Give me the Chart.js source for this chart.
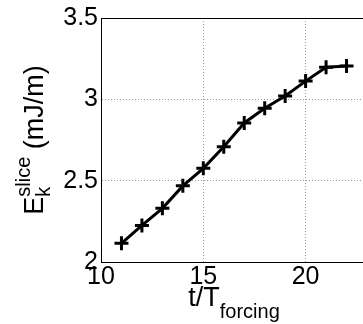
<!DOCTYPE html>
<html>
<head>
<meta charset="utf-8">
<script src="https://cdn.jsdelivr.net/npm/chart.js@4/dist/chart.umd.min.js"></script>
<style>
    html, body { margin: 0; padding: 0; background: #fff; overflow: hidden; }
    #wrap { width: 377px; height: 324px; }
</style>
</head>
<body>
<div id="wrap"><canvas id="myChart" width="377" height="324"></canvas></div>
<script>
// t / T_forcing
var tValues = [11, 12, 13, 14, 15, 16, 17, 18, 19, 20, 21, 22];
// E_k^slice in mJ/m
var ekValues = [2.115, 2.225, 2.33, 2.468, 2.576, 2.708, 2.855, 2.945, 3.02, 3.112, 3.197, 3.205];
var xTicks = [10, 15, 20];
var yTicks = [2, 2.5, 3, 3.5];

window.onload = function () {

    var fontFamily = '"Liberation Sans", Arial, Helvetica, sans-serif';

    var points = [];
    for (var i = 0; i < tValues.length; i++) {
        points.push({ x: tValues[i], y: ekValues[i] });
    }

    // axis titles with sub/superscripts, plus the top/right frame lines
    var labelsPlugin = {
        id: 'matlabLabels',
        afterDraw: function (chart) {
            var c = chart.ctx;
            var area = chart.chartArea;
            c.save();

            c.strokeStyle = '#000';
            c.lineWidth = 1;
            c.beginPath();
            c.moveTo(area.left, area.top + 0.5);
            c.lineTo(area.right, area.top + 0.5);
            c.moveTo(area.right - 0.5, area.top);
            c.lineTo(area.right - 0.5, area.bottom);
            c.stroke();

            c.fillStyle = '#000';
            c.textBaseline = 'alphabetic';
            c.textAlign = 'left';

            // x title: t/T_forcing
            var big = '27px ' + fontFamily;
            var small = '20px ' + fontFamily;
            c.font = big;
            var w1 = c.measureText('t/T').width;
            c.font = small;
            var w2 = c.measureText('forcing').width;
            var cx = (area.left + area.right) / 2;
            var x0 = cx - (w1 + w2) / 2;
            c.font = big;
            c.fillText('t/T', x0, 306);
            c.font = small;
            c.fillText('forcing', x0 + w1, 318);

            // y title: E_k^slice (mJ/m)
            c.font = big;
            var wE = c.measureText('E').width;
            var wRest = c.measureText(' (mJ/m)').width;
            c.font = small;
            var wSup = Math.max(c.measureText('slice').width, c.measureText('k').width);
            var total = wE + wSup + wRest;
            var cy = (area.top + area.bottom) / 2;
            c.translate(43, cy);
            c.rotate(-Math.PI / 2);
            var s = -total / 2;
            c.font = big;
            c.fillText('E', s, 0);
            c.font = small;
            c.fillText('slice', s + wE, -13);
            c.fillText('k', s + wE, 7);
            c.font = big;
            c.fillText(' (mJ/m)', s + wE + wSup, 0);

            c.restore();
        }
    };

    var ctx = document.getElementById('myChart').getContext('2d');

    var myChart = new Chart(ctx, {
        type: 'line',
        data: {
            datasets: [{
                label: 'Ek slice',
                data: points,
                borderColor: '#000',
                backgroundColor: '#000',
                borderWidth: 3,
                tension: 0,
                pointStyle: 'cross',
                pointRadius: 7,
                pointBorderWidth: 3,
                pointBorderColor: '#000'
            }]
        },
        options: {
            responsive: false,
            animation: false,
            devicePixelRatio: 1,
            layout: {
                padding: { top: 16, right: 4, left: 0, bottom: 0 }
            },
            plugins: {
                legend: { display: false },
                tooltip: { enabled: false }
            },
            scales: {
                x: {
                    type: 'linear',
                    min: 10,
                    max: 23,
                    afterBuildTicks: function (scale) {
                        scale.ticks = xTicks.map(function (v) { return { value: v }; });
                    },
                    afterFit: function (scale) {
                        scale.height = 62;
                        scale.paddingLeft = 0;
                        scale.paddingRight = 0;
                    },
                    ticks: {
                        color: '#000',
                        font: { family: fontFamily, size: 25 },
                        padding: 0,
                        maxRotation: 0,
                        callback: function (v) { return String(v); }
                    },
                    grid: {
                        drawTicks: false,
                        color: function (c) {
                            return (c.tick && c.tick.value === 10) ? 'rgba(0,0,0,0)' : '#9a9a9a';
                        },
                        lineWidth: 1
                    },
                    border: { display: true, color: '#000', width: 1, dash: [1, 2] }
                },
                y: {
                    min: 2,
                    max: 3.5,
                    afterBuildTicks: function (scale) {
                        scale.ticks = yTicks.map(function (v) { return { value: v }; });
                    },
                    afterFit: function (scale) {
                        scale.width = 101;
                    },
                    ticks: {
                        color: '#000',
                        font: { family: fontFamily, size: 25 },
                        padding: 3,
                        callback: function (v) { return String(v); }
                    },
                    grid: {
                        drawTicks: false,
                        color: function (c) {
                            var v = c.tick && c.tick.value;
                            return (v === 2 || v === 3.5) ? 'rgba(0,0,0,0)' : '#9a9a9a';
                        },
                        lineWidth: 1
                    },
                    border: { display: true, color: '#000', width: 1, dash: [1, 2] }
                }
            }
        },
        plugins: [labelsPlugin]
    });
};
</script>
</body>
</html>
